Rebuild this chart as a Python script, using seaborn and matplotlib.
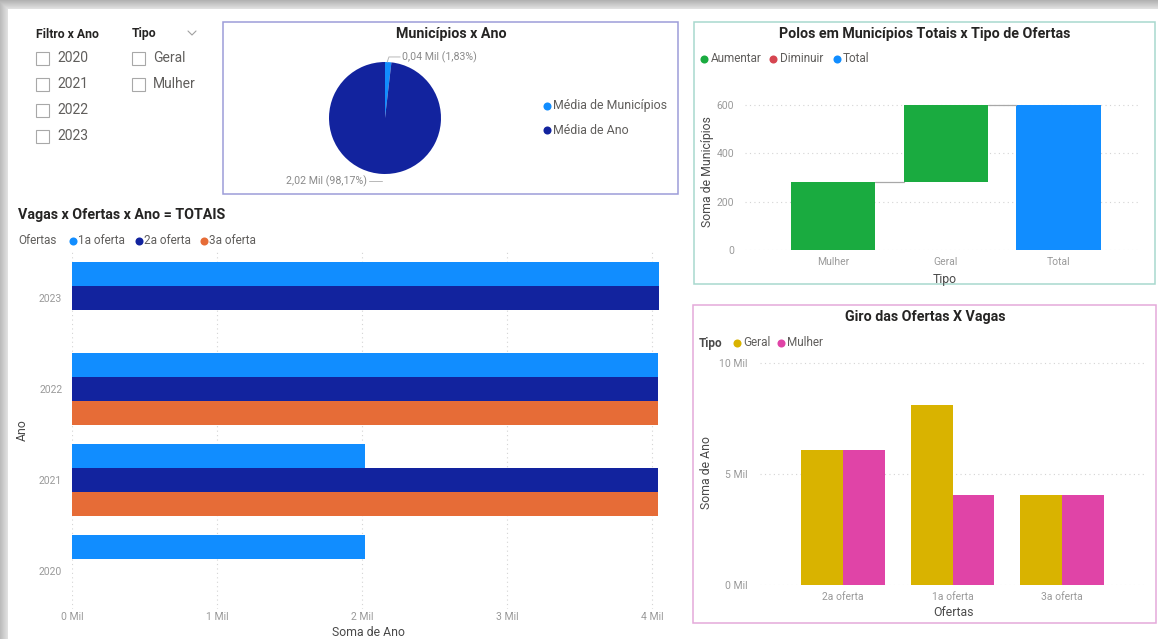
import numpy as np
import pandas as pd
import matplotlib
matplotlib.use("Agg")
import matplotlib.pyplot as plt
from matplotlib.patches import Rectangle
from matplotlib.ticker import FixedLocator, FuncFormatter
import seaborn as sns

# ---------------- data ----------------
filtro_anos = ["2020", "2021", "2022", "2023"]
filtro_tipos = ["Geral", "Mulher"]

pie_labels = ["Média de Municípios", "Média de Ano"]
pie_values = [37.7, 2021.6]

wf_tipos = ["Mulher", "Geral", "Total"]
wf_incrementos = [282, 318]          # Mulher, Geral; Total = soma
wf_legenda = ["Aumentar", "Diminuir", "Total"]

anos = ["2023", "2022", "2021", "2020"]
ofertas = ["1a oferta", "2a oferta", "3a oferta"]
soma_1a = [4046, 4044, 2021, 2020]
soma_2a = [4046, 4044, 4042, None]
soma_3a = [None, 4044, 4042, None]

giro_ofertas = ["2a oferta", "1a oferta", "3a oferta"]
giro_tipos = ["Geral", "Mulher"]
giro_geral = [6066, 8086, 4043]
giro_mulher = [6066, 4045, 4043]

# ---------------- style ----------------
BLUE, NAVY, ORANGE = "#118DFF", "#12239E", "#E66C37"
GREEN, RED = "#1AAB40", "#D64550"
GOLD, PINK = "#D9B300", "#E044A7"
TITLE_C, LABEL_C, TICK_C = "#252423", "#4a4a4a", "#9a9a9a"
GRID_C = "#d4d4d4"
TITLE_SIZE = 10.3

sns.set_style("white")
plt.rcParams["font.family"] = ["Roboto", "DejaVu Sans"]

W, H = 1158, 639
fig = plt.figure(figsize=(W / 100, H / 100), dpi=100)


def rect(x0, y0, x1, y1):
    return [x0 / W, 1 - y1 / H, (x1 - x0) / W, (y1 - y0) / H]


# background canvas in pixel coordinates
bg = fig.add_axes([0, 0, 1, 1], zorder=-10)
bg.set_xlim(0, W)
bg.set_ylim(H, 0)
bg.axis("off")

yy = np.arange(H)[:, None] * np.ones((1, W))
xx = np.ones((H, 1)) * np.arange(W)[None, :]
shade = np.ones((H, W))
top = yy < 9
left = xx < 8
shade = np.where(top, np.minimum(shade, 0.70 + 0.20 * yy / 9), shade)
shade = np.where(left, np.minimum(shade, 0.74 + 0.16 * xx / 8), shade)
bg.imshow(np.dstack([shade] * 3), extent=(0, W, H, 0), aspect="auto",
          interpolation="bilinear", zorder=0)


def legend_row(items, y, size=8.5):
    for cx, tx, label, color in items:
        bg.plot(cx, y, "o", ms=5.8, color=color, mec="none", zorder=3)
        bg.text(tx, y, label, ha="left", va="center", fontsize=size,
                color="#605E5C", zorder=3)


def style_ticks(ax, size=7.5):
    ax.tick_params(length=0, labelsize=size, labelcolor=TICK_C)
    for s in ax.spines.values():
        s.set_visible(False)
    ax.set_xlabel("")
    ax.set_ylabel("")
    ax.set_facecolor("none")


mil = FuncFormatter(lambda v, p: f"{v / 1000:.0f} Mil")

# ---------------- slicers ----------------
bg.text(36, 34, "Filtro x Ano", fontsize=8.8, weight="bold", color=TITLE_C,
        ha="left", va="center")
for i, a in enumerate(filtro_anos):
    yc = 58 + i * 26
    bg.add_patch(Rectangle((36, yc - 6.5), 13, 13, fill=False, ec="#a8a8a8", lw=0.8))
    bg.text(57, yc, a, fontsize=10, color="#605E5C", ha="left", va="center")

bg.text(132, 34, "Tipo", fontsize=8.8, weight="bold", color=TITLE_C,
        ha="left", va="center")
bg.plot([188, 192, 196], [31, 35, 31], color="#a0a0a0", lw=0.8)
for i, t in enumerate(filtro_tipos):
    yc = 58 + i * 26
    bg.add_patch(Rectangle((132, yc - 6.5), 13, 13, fill=False, ec="#a8a8a8", lw=0.8))
    bg.text(153, yc, t, fontsize=10, color="#605E5C", ha="left", va="center")

# ---------------- panel borders ----------------
bg.add_patch(Rectangle((223, 22), 455, 172, fill=False, ec="#9C9CD8", lw=1.1))
bg.add_patch(Rectangle((694, 22), 461, 262, fill=False, ec="#A8D8CE", lw=1.1))
bg.add_patch(Rectangle((693, 305), 463, 318, fill=False, ec="#E4AADA", lw=1.1))

# ---------------- pie: Municípios x Ano ----------------
bg.text(451, 34, "Municípios x Ano", fontsize=TITLE_SIZE, weight="bold",
        color=TITLE_C, ha="center", va="center")
ax_pie = fig.add_axes(rect(315, 48, 455, 188))
ax_pie.pie(pie_values, colors=[BLUE, NAVY], startangle=90, counterclock=False,
           wedgeprops=dict(linewidth=0))
ax_pie.set_xlim(-1.25, 1.25)
ax_pie.set_ylim(-1.25, 1.25)
ax_pie.set_facecolor("none")

total_pie = sum(pie_values)
pie_txt = [f"{v / 1000:.2f} Mil ({v / total_pie * 100:.2f}%)".replace(".", ",")
           for v in pie_values]
ax_pie.plot([0.04, 0.07, 0.27], [1.0, 1.09, 1.09], color="#b8b8b8", lw=0.7)
ax_pie.text(0.31, 1.09, pie_txt[0], fontsize=7.7, color="#8a8a8a", ha="left",
            va="center")
ax_pie.plot([-0.05, -0.28], [-1.125, -1.125], color="#b8b8b8", lw=0.7)
ax_pie.text(-0.32, -1.125, pie_txt[1], fontsize=7.7, color="#8a8a8a", ha="right",
            va="center")

legend_row([(547, 553, pie_labels[0], BLUE)], 106, size=8.9)
legend_row([(547, 553, pie_labels[1], NAVY)], 130, size=8.9)

# ---------------- waterfall ----------------
bg.text(925, 34, "Polos em Municípios Totais x Tipo de Ofertas", fontsize=TITLE_SIZE,
        weight="bold", color=TITLE_C, ha="center", va="center")
legend_row([(704, 711, wf_legenda[0], GREEN),
            (773, 780, wf_legenda[1], RED),
            (837, 843, wf_legenda[2], BLUE)], 59)

ax_wf = fig.add_axes(rect(745, 95, 1140, 250))
wf_total = sum(wf_incrementos)
wf_base = [0, wf_incrementos[0], 0]
wf_altura = [wf_incrementos[0], wf_incrementos[1], wf_total]
wf_cor = [GREEN, GREEN, BLUE]
bw = 0.75
for cat, base, h, c in zip(wf_tipos, wf_base, wf_altura, wf_cor):
    sns.barplot(x=[cat], y=[h], order=wf_tipos, color=c, bottom=base,
                width=bw, saturation=1, errorbar=None, linewidth=0, ax=ax_wf)
# connectors between consecutive steps
topos = [wf_base[i] + wf_altura[i] for i in range(3)]
for i in range(2):
    ax_wf.plot([i + bw / 2, i + 1 - bw / 2], [topos[i], topos[i]],
               color="#a8a8a8", lw=0.9)
ax_wf.set_xlim(-0.78, 2.72)
ax_wf.set_ylim(0, 641)
ax_wf.yaxis.set_major_locator(FixedLocator([0, 200, 400, 600]))
ax_wf.yaxis.set_major_formatter(FuncFormatter(lambda v, p: f"{v:.0f}"))
ax_wf.grid(axis="y", color=GRID_C, lw=0.8, ls=(0, (1, 3)))
ax_wf.set_axisbelow(True)
style_ticks(ax_wf)
ax_wf.tick_params(axis="y", pad=8)
ax_wf.tick_params(axis="x", pad=5)
bg.text(945, 279, "Tipo", fontsize=8.8, color=LABEL_C, ha="center", va="center")
bg.text(707, 172, "Soma de Municípios", fontsize=8.8, color=LABEL_C, ha="center",
        va="center", rotation=90)

# ---------------- horizontal bars: Vagas x Ofertas x Ano ----------------
bg.text(18, 215, "Vagas x Ofertas x Ano = TOTAIS", fontsize=TITLE_SIZE,
        weight="bold", color=TITLE_C, ha="left", va="center")
bg.text(18, 241, "Ofertas", fontsize=8.5, color="#605E5C", ha="left", va="center")
legend_row([(73, 78, ofertas[0], BLUE),
            (139, 144, ofertas[1], NAVY),
            (204, 209, ofertas[2], ORANGE)], 241)

rows = []
for ano, a, b, c in zip(anos, soma_1a, soma_2a, soma_3a):
    for of, v in zip(ofertas, (a, b, c)):
        if v is not None:
            rows.append({"Ano": ano, "Ofertas": of, "Soma": v})
df_vagas = pd.DataFrame(rows)

ax_h = fig.add_axes(rect(72, 251, 667, 609))
sns.barplot(data=df_vagas, x="Soma", y="Ano", hue="Ofertas", order=anos,
            hue_order=ofertas, palette=[BLUE, NAVY, ORANGE], orient="h",
            width=0.79, saturation=1, errorbar=None, linewidth=0, legend=False,
            ax=ax_h)
ax_h.set_xlim(0, 4103)
ax_h.set_ylim(3.418, -0.516)
ax_h.xaxis.set_major_locator(FixedLocator([0, 1000, 2000, 3000, 4000]))
ax_h.xaxis.set_major_formatter(mil)
ax_h.grid(axis="x", color=GRID_C, lw=0.8, ls=(0, (1, 3)))
ax_h.set_axisbelow(True)
style_ticks(ax_h)
ax_h.tick_params(axis="y", pad=7)
ax_h.tick_params(axis="x", pad=2)
bg.text(368, 632, "Soma de Ano", fontsize=8.8, color=LABEL_C, ha="center",
        va="center")
bg.text(22, 430, "Ano", fontsize=8.8, color=LABEL_C, ha="center", va="center",
        rotation=90)

# ---------------- grouped bars: Giro das Ofertas X Vagas ----------------
bg.text(925, 317, "Giro das Ofertas X Vagas", fontsize=TITLE_SIZE, weight="bold",
        color=TITLE_C, ha="center", va="center")
bg.text(699, 343, "Tipo", fontsize=8.5, weight="bold", color=LABEL_C, ha="left",
        va="center")
legend_row([(737, 743, giro_tipos[0], GOLD),
            (781, 787, giro_tipos[1], PINK)], 343)

df_giro = pd.DataFrame({
    "Ofertas": giro_ofertas * 2,
    "Tipo": ["Geral"] * 3 + ["Mulher"] * 3,
    "Soma": giro_geral + giro_mulher,
})
ax_g = fig.add_axes(rect(760, 360, 1147, 585))
sns.barplot(data=df_giro, x="Ofertas", y="Soma", hue="Tipo", order=giro_ofertas,
            hue_order=giro_tipos, palette=[GOLD, PINK], width=0.76, saturation=1,
            errorbar=None, linewidth=0, legend=False, ax=ax_g)
ax_g.set_xlim(-0.758, 2.776)
ax_g.set_ylim(0, 10135)
ax_g.yaxis.set_major_locator(FixedLocator([0, 5000, 10000]))
ax_g.yaxis.set_major_formatter(mil)
ax_g.grid(axis="y", color=GRID_C, lw=0.8, ls=(0, (1, 3)))
ax_g.set_axisbelow(True)
style_ticks(ax_g)
ax_g.tick_params(axis="y", pad=9)
ax_g.tick_params(axis="x", pad=5)
bg.text(953, 612, "Ofertas", fontsize=8.8, color=LABEL_C, ha="center",
        va="center")
bg.text(707, 473, "Soma de Ano", fontsize=8.8, color=LABEL_C, ha="center",
        va="center", rotation=90)

fig.savefig("out.png", dpi=100)
